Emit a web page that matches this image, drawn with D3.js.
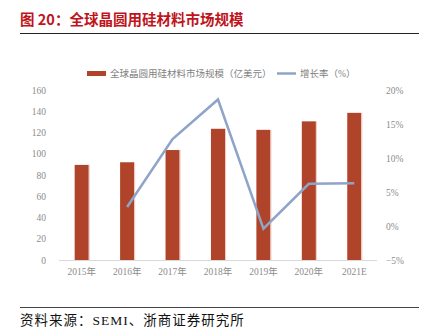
<!DOCTYPE html>
<html>
<head>
<meta charset="utf-8">
<script src="https://cdn.jsdelivr.net/npm/d3@7"></script>
<style>
  body { margin: 0; background: #fff; }
  svg { display: block; }
</style>
</head>
<body>
<div id="chart"></div>
<script>
// data
var years = ['2015年', '2016年', '2017年', '2018年', '2019年', '2020年', '2021E'];
var marketSize = [89.5, 92, 103.5, 123.5, 122.5, 130.5, 138.5];   // 亿美元
var growth = [null, 2.8, 12.8, 18.6, -0.4, 6.2, 6.3];             // %
var leftTicks = [0, 20, 40, 60, 80, 100, 120, 140, 160];
var rightTicks = [-5, 0, 5, 10, 15, 20];

var W = 425, H = 334;
var barColor = '#b0442a', lineColor = '#8ea4c8', tickColor = '#8c8c8c';
var serif = '"Liberation Serif", "Noto Sans CJK SC", serif';

var svg = d3.select('#chart').append('svg').attr('width', W).attr('height', H);

// title + rules
svg.append('text')
    .attr('x', 20).attr('y', 25)
    .attr('fill', '#c0141c')
    .style('font-family', '"Noto Sans CJK SC", sans-serif')
    .style('font-weight', 'bold')
    .style('font-size', '14.5px')
    .text('图 20：全球晶圆用硅材料市场规模');
svg.append('line').attr('x1', 20).attr('x2', 419).attr('y1', 33.5).attr('y2', 33.5)
    .attr('stroke', '#222').attr('stroke-width', 1);
svg.append('line').attr('x1', 20).attr('x2', 419).attr('y1', 307.5).attr('y2', 307.5)
    .attr('stroke', '#444').attr('stroke-width', 1);
svg.append('text')
    .attr('x', 20).attr('y', 325)
    .attr('fill', '#111')
    .style('font-family', serif)
    .style('font-size', '13.5px')
    .style('letter-spacing', '1px')
    .text('资料来源：SEMI、浙商证券研究所');

// scales
var x = d3.scaleBand().domain(years).range([59, 377]).paddingInner(0.69).paddingOuter(0.345);
var yL = d3.scaleLinear().domain([0, 160]).range([260, 90]);
var yR = d3.scaleLinear().domain([-5, 20]).range([260, 90]);

// axes
var axL = svg.append('g').attr('transform', 'translate(59,0)')
    .call(d3.axisLeft(yL).tickValues(leftTicks).tickSize(0).tickPadding(13));
var axR = svg.append('g').attr('transform', 'translate(377,0)')
    .call(d3.axisRight(yR).tickValues(rightTicks).tickSize(0).tickPadding(9)
        .tickFormat(function(d) { return (d < 0 ? '\u2212' + (-d) : d) + '%'; }));
var axB = svg.append('g').attr('transform', 'translate(0,260)')
    .call(d3.axisBottom(x).tickSize(0).tickPadding(8));

[axL, axR, axB].forEach(function(g) {
    g.select('.domain').remove();
    g.selectAll('text')
        .attr('fill', tickColor)
        .style('font-family', serif)
        .style('font-size', '9.5px');
});

svg.append('line').attr('x1', 59).attr('x2', 377).attr('y1', 260.5).attr('y2', 260.5)
    .attr('stroke', '#d9d9d9').attr('stroke-width', 1);

// bars
svg.selectAll('.bar').data(marketSize).enter().append('rect')
    .attr('class', 'bar')
    .attr('x', function(d, i) { return x(years[i]); })
    .attr('y', function(d) { return yL(d); })
    .attr('width', x.bandwidth())
    .attr('height', function(d) { return yL(0) - yL(d); })
    .attr('fill', barColor);
svg.selectAll('.barEdge').data(marketSize).enter().append('rect')
    .attr('class', 'barEdge')
    .attr('x', function(d, i) { return x(years[i]) + x.bandwidth(); })
    .attr('y', function(d) { return yL(d); })
    .attr('width', 1)
    .attr('height', function(d) { return yL(0) - yL(d); })
    .attr('fill', '#f0c9bf');

// growth line
var line = d3.line()
    .defined(function(d) { return d != null; })
    .x(function(d, i) { return x(years[i]) + x.bandwidth() / 2; })
    .y(function(d) { return yR(d); });
svg.append('path').datum(growth)
    .attr('d', line)
    .attr('fill', 'none')
    .attr('stroke', lineColor)
    .attr('stroke-width', 2.5)
    .attr('stroke-linejoin', 'miter');

// legend
var lg = svg.append('g').style('font-family', serif).style('font-size', '9.5px');
lg.append('rect').attr('x', 87).attr('y', 71).attr('width', 19).attr('height', 5).attr('fill', barColor);
lg.append('text').attr('x', 110).attr('y', 77).attr('fill', '#7f7f7f').text('全球晶圆用硅材料市场规模（亿美元）');
lg.append('line').attr('x1', 277).attr('x2', 296).attr('y1', 73.5).attr('y2', 73.5)
    .attr('stroke', lineColor).attr('stroke-width', 2.5);
lg.append('text').attr('x', 300).attr('y', 77).attr('fill', '#7f7f7f').text('增长率（%）');
</script>
</body>
</html>
